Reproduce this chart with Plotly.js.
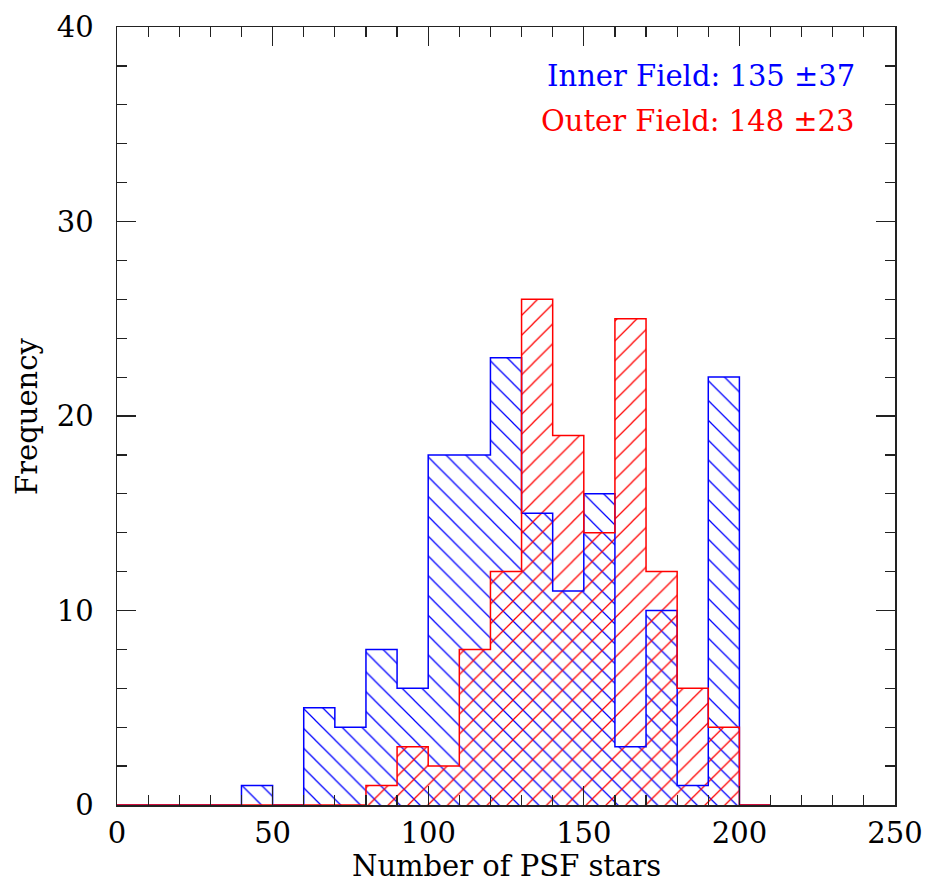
<!DOCTYPE html>
<html>
<head>
<meta charset="utf-8">
<script src="https://cdn.plot.ly/plotly-3.0.1.min.js"></script>
<style>
  html, body { margin: 0; padding: 0; background: #fff; }
  #chart { width: 928px; height: 886px; }
</style>
</head>
<body>
<div id="chart"></div>
<script>
// Histogram of PSF star counts per field, 10-star bins from 0 to 210
const binLower = [0, 10, 20, 30, 40, 50, 60, 70, 80, 90, 100, 110, 120, 130, 140, 150, 160, 170, 180, 190, 200];
const binWidth = 10;
const innerCounts = [0, 0, 0, 0, 1, 0, 5, 4, 8, 6, 18, 18, 23, 15, 11, 16, 3, 10, 1, 22, 0];
const outerCounts = [0, 0, 0, 0, 0, 0, 0, 0, 1, 3, 2, 8, 12, 26, 19, 14, 25, 12, 6, 4, 0];
const innerLabel = 'Inner Field: 135 \u00B137';
const outerLabel = 'Outer Field: 148 \u00B123';
const xTitle = 'Number of PSF stars';
const yTitle = 'Frequency';

const BLUE = '#0000ff';
const RED = '#ff0000';
const FONT = 'DejaVu Serif, serif';
const FSIZE = 29;

const centers = binLower.map(v => v + binWidth / 2);

// step outline: left edges plus closing right edge
function stepX() {
  return binLower.concat([binLower[binLower.length - 1] + binWidth]);
}
function stepY(counts) {
  return counts.concat([counts[counts.length - 1]]);
}

function hatchBars(counts, color, shape) {
  return {
    type: 'bar',
    x: centers,
    y: counts,
    width: binWidth,
    marker: {
      color: 'rgba(0,0,0,0)',
      line: { width: 0 },
      pattern: {
        shape: shape,
        fgcolor: color,
        bgcolor: 'rgba(0,0,0,0)',
        size: 14,
        solidity: 0.09,
        fillmode: 'replace'
      }
    },
    hoverinfo: 'skip',
    showlegend: false
  };
}

function outline(counts, color) {
  return {
    type: 'scatter',
    mode: 'lines',
    x: stepX(),
    y: stepY(counts),
    line: { color: color, width: 1.5, shape: 'hv' },
    hoverinfo: 'skip',
    showlegend: false
  };
}

const data = [
  hatchBars(innerCounts, BLUE, '\\'),
  hatchBars(outerCounts, RED, '/'),
  outline(innerCounts, BLUE),
  outline(outerCounts, RED)
];

const axisCommon = {
  showgrid: false,
  zeroline: false,
  showline: true,
  linecolor: '#222',
  linewidth: 1.5,
  mirror: 'allticks',
  ticks: 'inside',
  ticklen: 19,
  tickwidth: 1.2,
  tickcolor: '#222',
  tickfont: { family: FONT, size: FSIZE, color: '#000' }
};

const layout = {
  width: 928,
  height: 886,
  margin: { l: 117, r: 33, t: 27, b: 81 },
  paper_bgcolor: '#fff',
  plot_bgcolor: '#fff',
  barmode: 'overlay',
  bargap: 0,
  xaxis: Object.assign({}, axisCommon, {
    range: [0, 250],
    tickvals: [0, 50, 100, 150, 200, 250],
    ticktext: ['0', '50', '100', '150', '200', '250'],
    ticklabelstandoff: 2,
    minor: { dtick: 10, tick0: 0, ticks: 'inside', ticklen: 10, tickwidth: 1.2, tickcolor: '#222', showgrid: false }
  }),
  yaxis: Object.assign({}, axisCommon, {
    range: [0, 40],
    tickvals: [0, 10, 20, 30, 40],
    ticktext: ['0', '10', '20', '30', '40'],
    ticklabelstandoff: 16,
    minor: { dtick: 2, tick0: 0, ticks: 'inside', ticklen: 10, tickwidth: 1.2, tickcolor: '#222', showgrid: false }
  }),
  annotations: [
    // axis titles
    { xref: 'paper', yref: 'paper', x: 0.5, y: -0.079, xanchor: 'center', yanchor: 'middle',
      text: xTitle, showarrow: false, font: { family: FONT, size: FSIZE, color: '#000' } },
    { xref: 'paper', yref: 'paper', x: -0.1157, y: 0.5, xanchor: 'center', yanchor: 'middle', textangle: -90,
      text: yTitle, showarrow: false, font: { family: FONT, size: FSIZE, color: '#000' } },
    // field summaries
    { xref: 'paper', yref: 'paper', x: 0.951, y: 0.937, xanchor: 'right', yanchor: 'middle',
      text: innerLabel, showarrow: false, font: { family: FONT, size: FSIZE, color: BLUE } },
    { xref: 'paper', yref: 'paper', x: 0.951, y: 0.879, xanchor: 'right', yanchor: 'middle',
      text: outerLabel, showarrow: false, font: { family: FONT, size: FSIZE, color: RED } }
  ]
};

Plotly.newPlot('chart', data, layout, { staticPlot: true, displayModeBar: false });
</script>
</body>
</html>
